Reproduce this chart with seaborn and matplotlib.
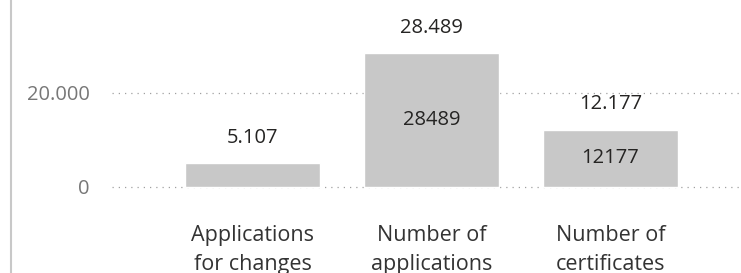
import matplotlib
matplotlib.use("Agg")
import matplotlib.pyplot as plt
import seaborn as sns
from matplotlib.lines import Line2D

# Chart data
categories = ["Applications\nfor changes", "Number of\napplications", "Number of\ncertificates"]
values = [5107, 28489, 12177]
inside_labels = ["", "28489", "12177"]
y_ticks = [0, 20000]
y_tick_labels = ["0", "20.000"]

sns.set_style("white")
plt.rcParams["font.family"] = ["Open Sans", "DejaVu Sans"]

fig = plt.figure(figsize=(7.41, 2.73), dpi=100)
ymin = -1000
extra = 94 / 20000 * (-ymin)
ax = fig.add_axes([112 / 741, (86 - extra) / 273, 629 / 741, (187 + extra) / 273])

sns.barplot(x=categories, y=values, color="#C8C8C8", saturation=1,
            width=0.754, ax=ax, zorder=2)

ax.set_xlim(-0.785, 2.729)
ax.set_ylim(ymin, 20000 * 187 / 94)

# Dotted gridlines
ax.set_yticks(y_ticks)
ax.set_yticklabels(y_tick_labels)
ax.grid(axis="y", linestyle=(0, (1, 4)), color="#A0A0A0", linewidth=0.9, zorder=0)
ax.grid(axis="x", visible=False)
ax.set_axisbelow(True)

ax.tick_params(axis="y", length=0, pad=16, labelsize=14.5, labelcolor="#777777")
ax.tick_params(axis="x", length=0, pad=24, labelsize=15.5, labelcolor="#333333")
for lbl in ax.get_xticklabels():
    lbl.set_linespacing(1.5)

sns.despine(ax=ax, left=True, bottom=True)

# Data labels
bars = ax.containers[0]
ax.bar_label(bars, labels=[f"{v:,}".replace(",", ".") for v in values],
             padding=11, fontsize=14.5, color="#252423")
ax.bar_label(bars, labels=inside_labels, label_type="center",
             fontsize=14.5, color="#252423")

# Left border line
fig.add_artist(Line2D([10.5 / 741, 10.5 / 741], [0, 1], color="#C8C8C8",
                      linewidth=1.5, transform=fig.transFigure))

fig.savefig("out.png", dpi=100)
